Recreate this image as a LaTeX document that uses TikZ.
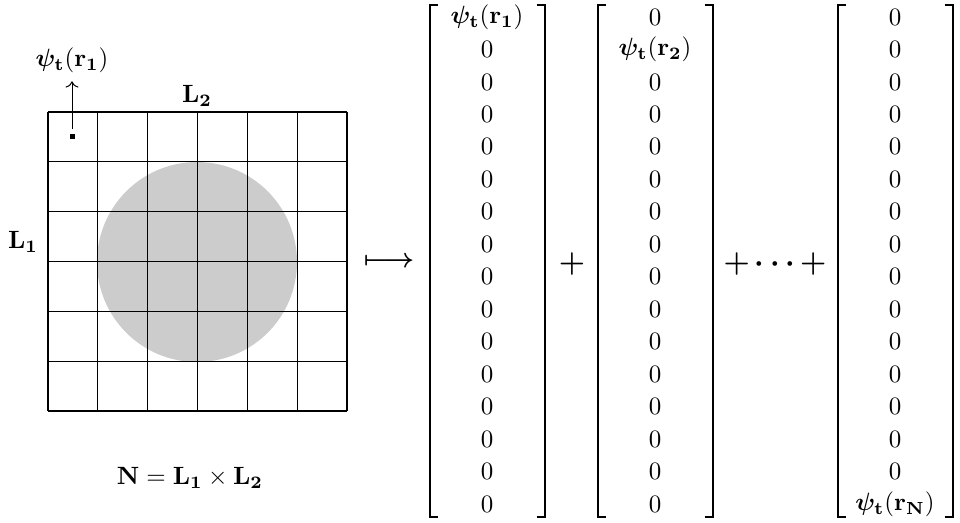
\documentclass[tikz,border=0pt]{standalone}
\usepackage{amsmath,amssymb,bm}
\usetikzlibrary{arrows.meta,positioning,calc}
\newcommand{\psit}[1]{\bm{\psi}_{\mathbf{t}}(\mathbf{r}_{\mathbf{#1}})}

\begin{document}
\begin{tikzpicture}[x=0.4pt,y=-0.4pt,font=\normalsize,
    entry/.style={inner sep=0pt,anchor=center},
    brack/.style={line width=0.6pt},
    sumop/.style={font=\fontsize{13}{15}\selectfont}]
  \useasboundingbox (0,0) rectangle (960,522);
  % lattice with the disc
  \fill[black!20] (197,262) circle[radius=100];
  \foreach \k in {0,...,6} {
    \draw[line width=0.5pt] ({48+49.83*\k},112) -- ({48+49.83*\k},411);
    \draw[line width=0.5pt] (48,{112+49.83*\k}) -- (347,{112+49.83*\k});
  }
  \fill (70,134) rectangle (75,139);
  \node (psi) at (72,60) {$\psit{1}$};
  \coordinate (site) at (72,129);
  \draw[->] (site) -- (psi.south);
  \node (Ltwo) at (197,96) {$\mathbf{L_2}$};
  \node (Lone) at (23,242) {$\mathbf{L_1}$};
  \node (Ntot) at (190,478) {$\mathbf{N = L_1 \times L_2}$};
  \node[font=\fontsize{11}{13}\selectfont] (map) at (389,262) {$\boldsymbol{\longmapsto}$};
  % the three vectors
  \foreach \v/\cx/\hit in {1/487/1, 2/655/2, 3/895/16} {
    \foreach \i in {1,...,16} {
      \ifnum\i=\hit
        \ifnum\v=3 \node[entry] (v\v-\i) at (\cx,{17+32.47*(\i-1)}) {$\psit{N}$};
        \else \node[entry] (v\v-\i) at (\cx,{17+32.47*(\i-1)}) {$\psit{\v}$};
        \fi
      \else
        \node[entry] (v\v-\i) at (\cx,{17+32.47*(\i-1)}) {$0$};
      \fi
    }
    \draw[brack] ($(\cx,5)+(-49,0)$) -- ++(-8,0) -- ++(0,512) -- ++(8,0);
    \draw[brack] ($(\cx,5)+(50,0)$) -- ++(8,0) -- ++(0,512) -- ++(-8,0);
  }
  \node[sumop] (plus) at (572,264) {$\bm{+}$};
  \node[sumop] (dots) at (775,264) {$\bm{{+}\,\cdots\,{+}}$};
\end{tikzpicture}
\end{document}
